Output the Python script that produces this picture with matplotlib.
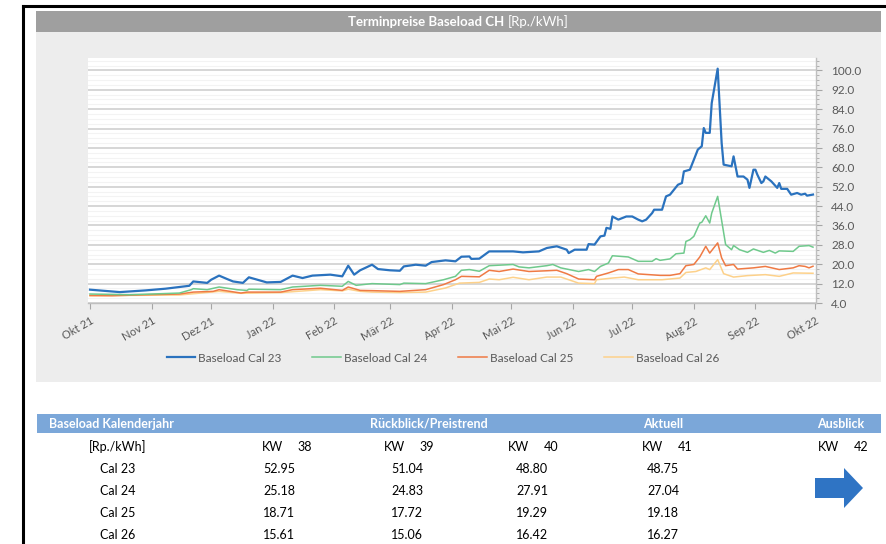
import matplotlib
matplotlib.use("Agg")
import matplotlib.pyplot as plt
from matplotlib.patches import Rectangle, Polygon
from matplotlib.lines import Line2D
from matplotlib.ticker import FixedLocator, FormatStrFormatter
import numpy as np
import pandas as pd

plt.rcParams['font.family'] = ['Lato', 'DejaVu Sans']

W, H = 887, 544

# Terminpreise Baseload CH [Rp./kWh]
cal23_dates = ["2021-10-01", "2021-10-16", "2021-10-29", "2021-11-08", "2021-11-20", "2021-11-22",
               "2021-11-29", "2021-12-01", "2021-12-05", "2021-12-09", "2021-12-12", "2021-12-17",
               "2021-12-20", "2021-12-29", "2022-01-05", "2022-01-11", "2022-01-16", "2022-01-21",
               "2022-01-30", "2022-02-05", "2022-02-08", "2022-02-11", "2022-02-14", "2022-02-20",
               "2022-02-23", "2022-03-01", "2022-03-06", "2022-03-08", "2022-03-14", "2022-03-19",
               "2022-03-22", "2022-03-29", "2022-04-03", "2022-04-06", "2022-04-10", "2022-04-11",
               "2022-04-15", "2022-04-20", "2022-05-02", "2022-05-07", "2022-05-15", "2022-05-19",
               "2022-05-24", "2022-05-29", "2022-05-30", "2022-06-02", "2022-06-08", "2022-06-09",
               "2022-06-12", "2022-06-15", "2022-06-17", "2022-06-18", "2022-06-20", "2022-06-21",
               "2022-06-24", "2022-06-28", "2022-07-01", "2022-07-04", "2022-07-06", "2022-07-08",
               "2022-07-11", "2022-07-12", "2022-07-16", "2022-07-18", "2022-07-20", "2022-07-24",
               "2022-07-26", "2022-07-27", "2022-07-30", "2022-08-01", "2022-08-03", "2022-08-05",
               "2022-08-06", "2022-08-07", "2022-08-09", "2022-08-10", "2022-08-13", "2022-08-15",
               "2022-08-16", "2022-08-20", "2022-08-21", "2022-08-23", "2022-08-26", "2022-08-28",
               "2022-08-29", "2022-08-31", "2022-09-01", "2022-09-02", "2022-09-04", "2022-09-05",
               "2022-09-06", "2022-09-09", "2022-09-12", "2022-09-13", "2022-09-14", "2022-09-17",
               "2022-09-19", "2022-09-22", "2022-09-24", "2022-09-26", "2022-09-27", "2022-09-30"]
cal23 = [9.5, 8.5, 9.2, 9.9, 11.1, 12.9,
         12.3, 13.6, 15.3, 13.9, 12.9, 12.3,
         14.6, 12.5, 12.7, 15.3, 14.3, 15.3,
         15.7, 15.0, 19.4, 15.7, 17.5, 19.8,
         18.0, 17.5, 17.3, 19.1, 19.8, 19.4,
         20.9, 21.6, 21.2, 23.1, 23.2, 22.2,
         22.3, 25.3, 25.3, 24.9, 25.3, 26.7,
         27.4, 26.0, 24.6, 26.0, 26.0, 28.3,
         28.1, 31.5, 31.8, 35.0, 34.6, 39.7,
         38.4, 39.7, 39.7, 38.4, 37.7, 38.4,
         41.1, 42.5, 42.5, 48.0, 48.7, 52.8,
         53.5, 58.3, 59.0, 63.1, 67.3, 68.7,
         76.2, 74.2, 74.2, 86.5, 100.7, 70.0,
         61.1, 60.4, 64.5, 56.2, 56.2, 54.9,
         51.5, 59.0, 59.0, 56.9, 53.5, 54.2,
         56.2, 54.2, 51.5, 53.5, 51.1, 51.1,
         48.7, 49.4, 48.7, 49.1, 48.3, 48.75]

cal24_dates = ["2021-10-01", "2021-10-21", "2021-11-15", "2021-11-21", "2021-11-22", "2021-11-29",
               "2021-12-05", "2021-12-14", "2021-12-19", "2021-12-20", "2022-01-05", "2022-01-11",
               "2022-01-25", "2022-02-05", "2022-02-08", "2022-02-12", "2022-02-20", "2022-03-06",
               "2022-03-08", "2022-03-19", "2022-03-28", "2022-04-03", "2022-04-06", "2022-04-10",
               "2022-04-15", "2022-04-20", "2022-05-02", "2022-05-05", "2022-05-10", "2022-05-19",
               "2022-05-22", "2022-05-26", "2022-06-04", "2022-06-09", "2022-06-12", "2022-06-15",
               "2022-06-19", "2022-06-21", "2022-06-29", "2022-07-04", "2022-07-11", "2022-07-13",
               "2022-07-15", "2022-07-20", "2022-07-23", "2022-07-27", "2022-07-28", "2022-07-30",
               "2022-08-01", "2022-08-04", "2022-08-05", "2022-08-07", "2022-08-09", "2022-08-10",
               "2022-08-13", "2022-08-17", "2022-08-20", "2022-08-21", "2022-08-24", "2022-08-28",
               "2022-08-31", "2022-09-05", "2022-09-08", "2022-09-11", "2022-09-13", "2022-09-20",
               "2022-09-23", "2022-09-28", "2022-09-30"]
cal24 = [7.7, 7.4, 8.1, 9.5, 9.9, 9.5,
         10.6, 9.5, 9.2, 9.7, 9.5, 10.6,
         11.3, 10.9, 12.9, 11.3, 12.0, 11.6,
         12.2, 12.0, 13.6, 15.0, 17.5, 17.8,
         17.1, 19.4, 19.9, 18.9, 18.5, 19.4,
         19.9, 18.5, 17.0, 17.8, 17.0, 19.1,
         20.5, 23.5, 23.0, 21.2, 21.2, 22.3,
         21.6, 22.2, 24.3, 24.6, 29.4, 30.1,
         31.5, 37.0, 37.3, 40.0, 37.0, 41.1,
         48.0, 28.1, 26.0, 27.7, 26.0, 24.9,
         26.3, 24.9, 25.7, 24.6, 25.5, 25.3,
         27.4, 27.7, 27.04]

cal25_dates = ["2021-10-01", "2021-10-12", "2021-10-29", "2021-11-15", "2021-11-22", "2021-12-02",
               "2021-12-05", "2021-12-16", "2021-12-19", "2022-01-05", "2022-01-11", "2022-01-25",
               "2022-02-05", "2022-02-08", "2022-02-14", "2022-02-20", "2022-03-06", "2022-03-19",
               "2022-03-28", "2022-04-03", "2022-04-06", "2022-04-15", "2022-04-20", "2022-04-25",
               "2022-05-02", "2022-05-10", "2022-05-19", "2022-05-24", "2022-05-29", "2022-06-04",
               "2022-06-12", "2022-06-13", "2022-06-19", "2022-06-24", "2022-06-29", "2022-07-04",
               "2022-07-15", "2022-07-20", "2022-07-25", "2022-07-28", "2022-08-01", "2022-08-04",
               "2022-08-07", "2022-08-09", "2022-08-13", "2022-08-15", "2022-08-17", "2022-08-21",
               "2022-08-23", "2022-08-31", "2022-09-06", "2022-09-13", "2022-09-20", "2022-09-23",
               "2022-09-26", "2022-09-28", "2022-09-30"]
cal25 = [7.1, 7.0, 7.4, 7.7, 8.5, 8.8,
         9.5, 8.1, 8.5, 8.5, 9.5, 10.1,
         9.2, 10.6, 9.2, 9.1, 8.8, 9.5,
         11.6, 13.6, 15.0, 14.8, 17.5, 17.0,
         18.0, 17.0, 17.3, 17.5, 16.1, 13.9,
         13.6, 15.0, 16.4, 17.8, 17.8, 16.0,
         15.4, 15.4, 16.1, 19.4, 19.9, 23.0,
         27.4, 24.6, 28.8, 22.6, 19.4, 19.9,
         18.0, 18.5, 19.1, 17.8, 18.5, 19.4,
         19.1, 18.5, 19.18]

cal26_dates = ["2021-10-01", "2021-11-15", "2021-12-05", "2021-12-16", "2022-01-05", "2022-01-25",
               "2022-02-05", "2022-02-08", "2022-02-14", "2022-02-20", "2022-03-06", "2022-03-19",
               "2022-03-29", "2022-04-05", "2022-04-15", "2022-04-20", "2022-04-25", "2022-05-02",
               "2022-05-10", "2022-05-19", "2022-05-26", "2022-05-30", "2022-06-04", "2022-06-12",
               "2022-06-13", "2022-06-21", "2022-06-27", "2022-07-04", "2022-07-16", "2022-07-25",
               "2022-07-28", "2022-08-02", "2022-08-07", "2022-08-09", "2022-08-13", "2022-08-16",
               "2022-08-21", "2022-08-28", "2022-09-06", "2022-09-13", "2022-09-20", "2022-09-30"]
cal26 = [7.0, 7.3, 8.8, 8.0, 8.3, 9.5,
         9.0, 9.7, 8.8, 8.5, 8.3, 8.5,
         10.2, 12.2, 12.5, 13.9, 13.6, 14.6,
         13.6, 14.7, 14.7, 13.6, 12.2, 12.0,
         13.6, 14.3, 14.7, 13.6, 13.6, 14.3,
         16.6, 17.0, 18.5, 17.8, 21.9, 16.1,
         14.7, 15.3, 15.7, 15.0, 16.4, 16.27]

series_names = ["Baseload Cal 23", "Baseload Cal 24", "Baseload Cal 25", "Baseload Cal 26"]
month_labels = ["Okt 21", "Nov 21", "Dez 21", "Jan 22", "Feb 22", "Mär 22", "Apr 22",
                "Mai 22", "Jun 22", "Jul 22", "Aug 22", "Sep 22", "Okt 22"]

# summary table
row_labels = ["Cal 23", "Cal 24", "Cal 25", "Cal 26"]
weeks = [38, 39, 40, 41, 42]
kw38 = [52.95, 25.18, 18.71, 15.61]
kw39 = [51.04, 24.83, 17.72, 15.06]
kw40 = [48.80, 27.91, 19.29, 16.42]
kw41 = [48.75, 27.04, 19.18, 16.27]

colors = ["#2a72be", "#6fc98c", "#ef7a44", "#fdd18a"]
widths = [1.6, 1.1, 1.1, 1.1]
text_grey = "#595959"


def fx(x):
    return x / W


def fy(y):
    return 1 - y / H


fig = plt.figure(figsize=(W / 100, H / 100), dpi=100)
fig.patch.set_facecolor("white")

# frame lines (top and left)
fig.add_artist(Line2D([fx(23), fx(887)], [fy(6), fy(6)], color="black", lw=2.2, zorder=-3))
fig.add_artist(Line2D([fx(23), fx(23)], [fy(6), fy(544)], color="black", lw=2.2, zorder=-3))

# grey chart panel and title bar
fig.add_artist(Rectangle((fx(36), fy(382)), fx(881 - 36), (382 - 11) / H,
                         transform=fig.transFigure, facecolor="#ededed", edgecolor="none", zorder=-2))
fig.add_artist(Rectangle((fx(36), fy(32)), fx(881 - 36), (32 - 11) / H,
                         transform=fig.transFigure, facecolor="#9f9f9f", edgecolor="none", zorder=-1))
fig.text(fx(504), fy(21.5), "Terminpreise Baseload CH", color="white", fontsize=9.5,
         fontweight="bold", ha="right", va="center")
fig.text(fx(508), fy(21.5), "[Rp./kWh]", color="white", fontsize=9.5, ha="left", va="center")

# main plot
ax = fig.add_axes([fx(88), fy(303), (816 - 88) / W, (303 - 58) / H])
ax.set_facecolor("white")

all_dates = [cal23_dates, cal24_dates, cal25_dates, cal26_dates]
all_vals = [cal23, cal24, cal25, cal26]
handles = []
for i in range(4):
    ln, = ax.plot(pd.to_datetime(all_dates[i]), all_vals[i], color=colors[i], lw=widths[i],
                  label=series_names[i], zorder=5 - i, solid_joinstyle="round")
    handles.append(ln)

ax.set_xlim(pd.Timestamp("2021-09-30"), pd.Timestamp("2022-10-01 12:00"))
ax.set_ylim(4, 105.1)

ax.yaxis.tick_right()
ax.yaxis.set_major_locator(FixedLocator(np.arange(4, 101, 8)))
ax.yaxis.set_minor_locator(FixedLocator(np.arange(4, 105, 2)))
ax.yaxis.set_major_formatter(FormatStrFormatter("%.1f"))
ax.tick_params(axis="y", which="major", length=4, color="#a6a6a6", labelsize=8.5,
               labelcolor=text_grey, pad=7)
ax.tick_params(axis="y", which="minor", length=2.5, color="#a6a6a6")

ax.grid(axis="y", which="major", color="#cfcfcf", lw=1.2)
ax.grid(axis="y", which="minor", color="#f3f3f3", lw=0.8)
ax.set_axisbelow(True)

month_ticks = pd.date_range("2021-10-01", "2022-10-01", freq="MS")
ax.set_xticks(month_ticks)
ax.set_xticklabels(month_labels, rotation=30, ha="right", rotation_mode="anchor")
ax.tick_params(axis="x", length=4, color="#a6a6a6", labelsize=8, labelcolor=text_grey, pad=5)

for side in ["left", "top"]:
    ax.spines[side].set_visible(False)
for side in ["right", "bottom"]:
    ax.spines[side].set_color("#bfbfbf")
    ax.spines[side].set_linewidth(1.0)

fig.legend(handles=handles, loc="center", bbox_to_anchor=(fx(443), fy(358)), ncol=4,
           frameon=False, fontsize=8.5, handlelength=2.4, handletextpad=0.3,
           columnspacing=2.6, labelcolor=text_grey)

# table header
fig.add_artist(Rectangle((fx(37), fy(433)), fx(881 - 37), (433 - 414) / H,
                         transform=fig.transFigure, facecolor="#7ba7d9", edgecolor="none"))
head_y = fy(424)
fig.text(fx(49), head_y, "Baseload Kalenderjahr", color="white", fontsize=9,
         fontweight="bold", ha="left", va="center")
fig.text(fx(429), head_y, "Rückblick/Preistrend", color="white", fontsize=9,
         fontweight="bold", ha="center", va="center")
fig.text(fx(663), head_y, "Aktuell", color="white", fontsize=9,
         fontweight="bold", ha="center", va="center")
fig.text(fx(841), head_y, "Ausblick", color="white", fontsize=9,
         fontweight="bold", ha="center", va="center")

# week row
fig.text(fx(118), fy(447), "[Rp./kWh]", fontsize=9, ha="center", va="center")
kw_x = [262, 384, 508, 642, 818]
for k, w in enumerate(weeks):
    fig.text(fx(kw_x[k]), fy(447), "KW", fontsize=9, ha="left", va="center")
    fig.text(fx(kw_x[k] + 50), fy(447), str(w), fontsize=9, ha="right", va="center")

# values
row_y = [469, 491, 513, 535]
col_x = [279, 407, 532, 663]
cols = [kw38, kw39, kw40, kw41]
for r in range(4):
    fig.text(fx(118), fy(row_y[r]), row_labels[r], fontsize=9, ha="center", va="center")
    for c in range(4):
        fig.text(fx(col_x[c]), fy(row_y[r]), f"{cols[c][r]:.2f}", fontsize=9,
                 ha="center", va="center")

# outlook arrow
arrow_px = [(815, 478), (844, 478), (844, 468), (863, 488), (844, 508), (844, 498), (815, 498)]
fig.add_artist(Polygon([(fx(x), fy(y)) for x, y in arrow_px], closed=True,
                       transform=fig.transFigure, facecolor="#2f74c4", edgecolor="none"))

fig.savefig("out.png", dpi=100)
